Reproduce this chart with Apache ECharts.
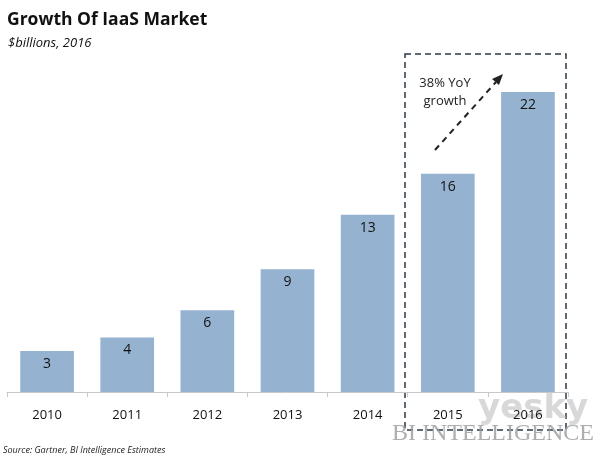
<!DOCTYPE html>
<html><head><meta charset="utf-8">
<script src="https://cdn.jsdelivr.net/npm/echarts@6/dist/echarts.min.js"></script>
<style>html,body{margin:0;padding:0;background:#fff}#c{width:600px;height:461px}</style>
</head><body><div id="c"></div>
<script>
const categories = ['2010','2011','2012','2013','2014','2015','2016'];
const values = [3, 4, 6, 9, 13, 16, 22];
const titleText = 'Growth Of IaaS Market';
const subtitleText = '$billions, 2016';
const sourceText = 'Source: Gartner, BI Intelligence Estimates';
const annotationText = '38% YoY\ngrowth';

const chart = echarts.init(document.getElementById('c'));
chart.setOption({
  animation: false,
  backgroundColor: '#fff',
  textStyle: { fontFamily: 'Open Sans' },
  title: [
    { text: titleText, left: 2, top: 6, textStyle: { fontFamily: 'Open Sans', fontWeight: 'bold', fontSize: 17.5, color: '#111' } },
    { text: subtitleText, left: 3, top: 32, textStyle: { fontFamily: 'Open Sans', fontStyle: 'italic', fontWeight: 'normal', fontSize: 13, color: '#111' } }
  ],
  grid: { left: 7, right: 32, top: 92, bottom: 69 },
  xAxis: {
    type: 'category', data: categories,
    axisLine: { lineStyle: { color: '#c8c8c8', width: 1 } },
    axisTick: { show: true, length: 5, lineStyle: { color: '#c8c8c8' } },
    axisLabel: { color: '#111', fontSize: 13, margin: 17, fontFamily: 'Open Sans' }
  },
  yAxis: { type: 'value', min: 0, max: 22, show: false, splitLine: { show: false } },
  series: [{
    type: 'bar', data: values, barWidth: '67%',
    itemStyle: { color: '#95b3d0' },
    label: { show: true, position: 'insideTop', distance: 6, color: '#111', fontSize: 14, fontFamily: 'Open Sans' }
  }],
  graphic: [
    { type: 'rect', shape: { x: 405, y: 54, width: 161, height: 376 }, style: { fill: 'none', stroke: '#2b3a4a', lineWidth: 1.5, lineDash: [6, 4] } },
    { type: 'line', shape: { x1: 435, y1: 150, x2: 496, y2: 82 }, style: { stroke: '#222', lineWidth: 2, lineDash: [6, 5] } },
    { type: 'polygon', shape: { points: [[503, 74], [492, 79], [499, 85]] }, style: { fill: '#222' } },
    { type: 'text', x: 445, y: 74, style: { text: annotationText, fontSize: 13, fill: '#222', textAlign: 'center', align: 'center', lineHeight: 18, fontFamily: 'Open Sans' } },
    { type: 'text', left: 3, top: 446, style: { text: sourceText, fontSize: 9, fontStyle: 'italic', fill: '#222', fontFamily: 'Open Sans' } },
    { type: 'text', left: 392, top: 422, style: { text: 'BI INTELLIGENCE', fontSize: 24, fill: '#9a9a9a', fontFamily: 'Liberation Serif', opacity: 0.8 } },
    { type: 'text', left: 478, top: 392, style: { text: 'yesky', fontSize: 34, fontWeight: 'bold', fill: '#c8c8c8', fontFamily: 'DejaVu Sans', opacity: 0.7 } }
  ]
});
</script></body></html>
